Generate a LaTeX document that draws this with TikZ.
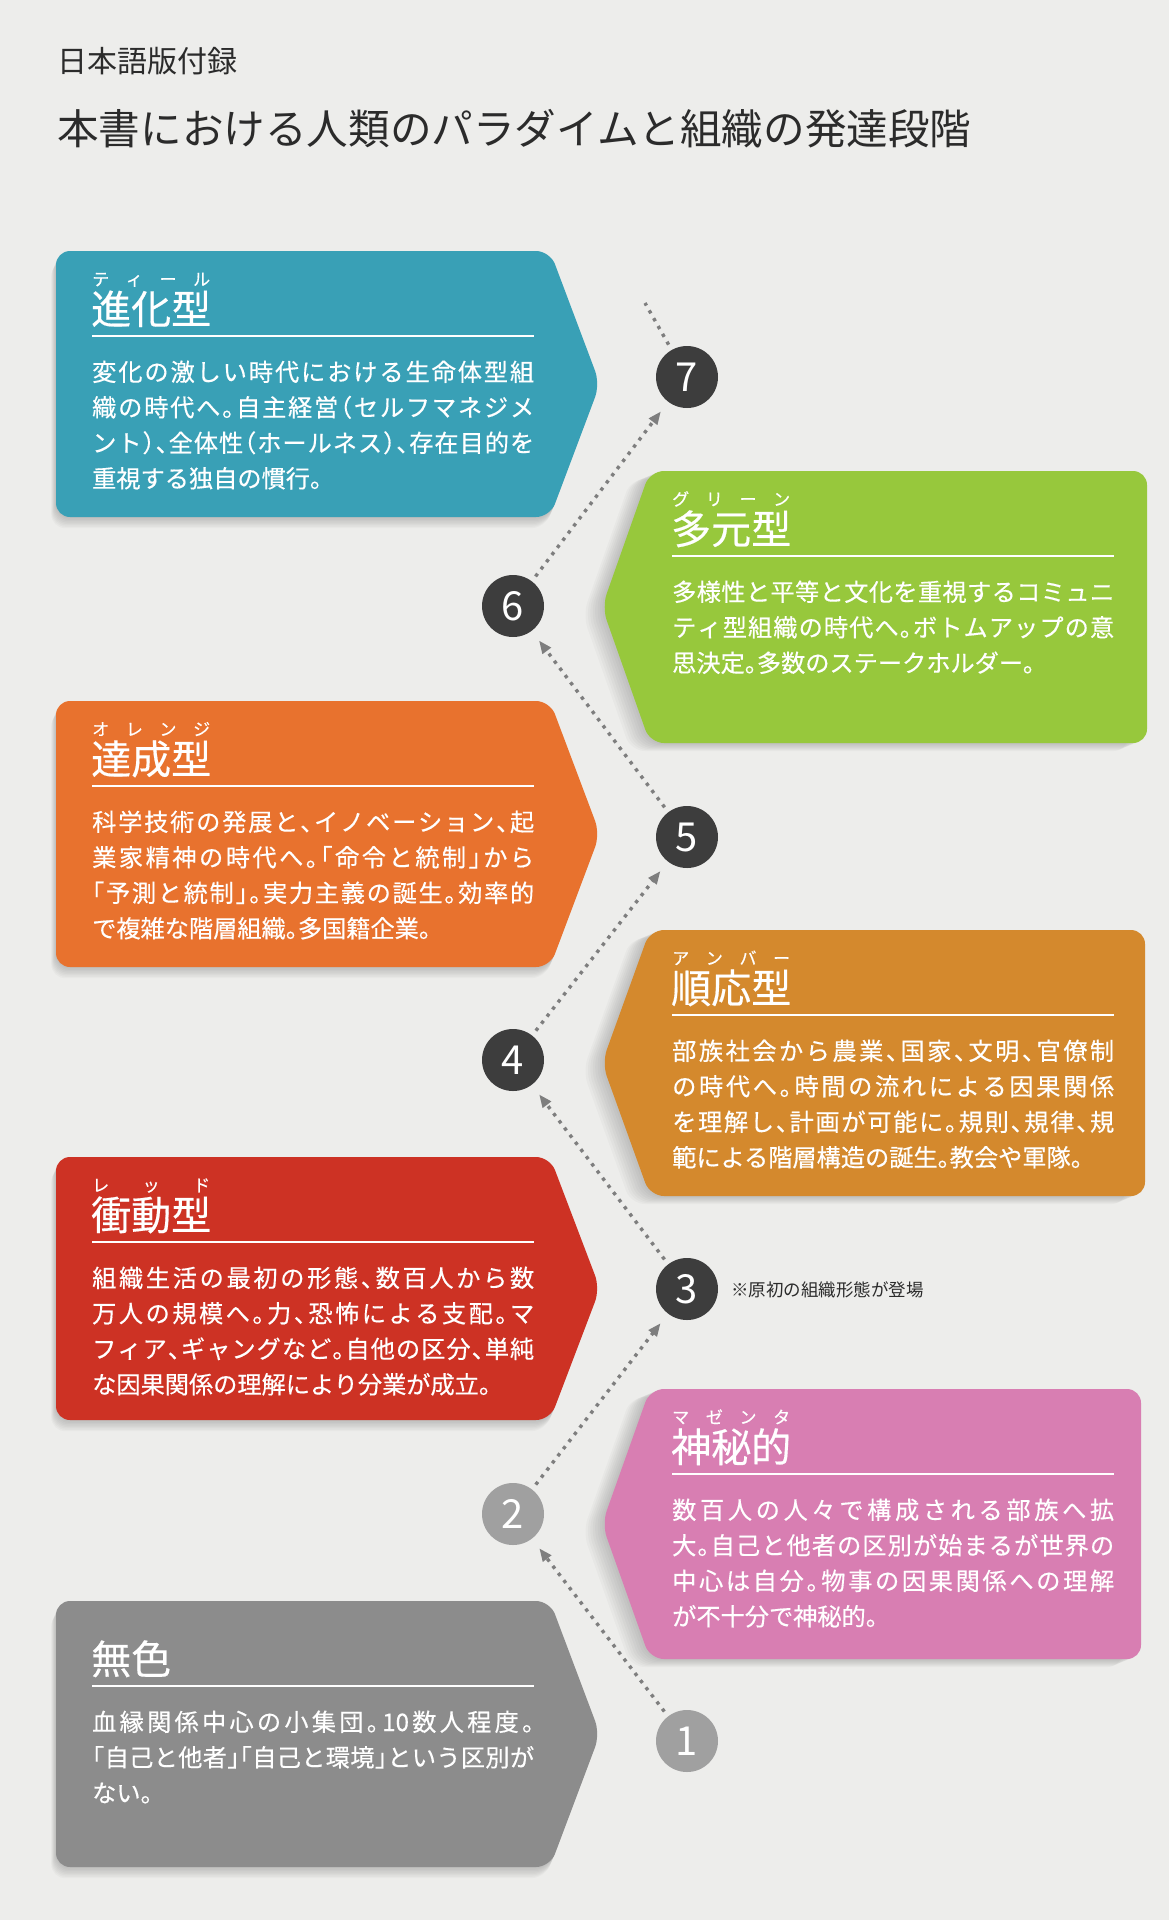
\documentclass[tikz,border=0pt]{standalone}
\usepackage{fontspec}
\setmainfont{Noto Sans CJK JP}[CharacterWidth=AlternateHalf]
\newfontfamily\boxfont{Noto Sans CJK JP}[CharacterWidth=AlternateHalf, FakeBold=0.4]
\usetikzlibrary{arrows.meta}

\definecolor{paper}{HTML}{EDEDEB}
\definecolor{ink}{HTML}{2B2B2B}
\definecolor{tealtag}{HTML}{39A0B6}
\definecolor{greentag}{HTML}{97C83C}
\definecolor{orangetag}{HTML}{E8722E}
\definecolor{ambertag}{HTML}{D4892D}
\definecolor{redtag}{HTML}{CD3224}
\definecolor{pinktag}{HTML}{D87EB2}
\definecolor{graytag}{HTML}{8C8C8C}
\definecolor{dotdark}{HTML}{3D3D3D}
\definecolor{dotlight}{HTML}{A0A0A0}
\definecolor{flowgray}{HTML}{7E7E7E}

\tikzset{
  tagleft/.style 2 args={insert path={(300,#1) -- (550,#1) -- (600,{(#1+#2)/2}) -- (550,#2) -- (56,#2) -- (56,#1) -- cycle}},
  tagright/.style n args={3}{insert path={(900,#1) -- (#3,#1) -- (#3,#2) -- (650,#2) -- (602,{(#1+#2)/2}) -- (650,#1) -- cycle}},
  rubytext/.style={anchor=base west, inner sep=0pt, text=white, font=\boxfont\fontsize{17}{17}\selectfont},
  headtext/.style={anchor=base west, inner sep=0pt, text=white, font=\boxfont\fontsize{40}{40}\selectfont},
  bodytext/.style={anchor=base west, inner sep=0pt, text=white, text width=442pt, align=left, font=\boxfont\fontsize{24.2}{35.5}\selectfont},
  rulewhite/.style={white, line width=2.6pt},
  numdot/.style={circle, fill=dotdark, minimum size=62pt, inner sep=0pt, text=white, font=\fontsize{40}{40}\selectfont},
  numdotlight/.style={numdot, fill=dotlight},
  flow/.style={draw=flowgray, line width=3.4pt, dash pattern=on 3.4pt off 5.6pt, -{Triangle[length=13pt,width=10pt]}, shorten <=6pt, shorten >=12pt},
}

% one full text line, spread over the box width
\ExplSyntaxOn
\NewDocumentCommand{\jline}{m}
  { \makebox[442pt][s]{ \tl_map_inline:nn {#1} { ##1 \hfil } \unskip } }
\ExplSyntaxOff

% box with shadow, point on the right
\newcommand{\lefttag}[3]{%
  \foreach \s in {1,...,8}
    \fill[black, opacity=0.025, rounded corners=14pt, shift={(-0.6*\s,1.4*\s)}, tagleft={#2}{#3}];
  \fill[#1, rounded corners=14pt, tagleft={#2}{#3}];
}
% box with shadow, point on the left
\newcommand{\righttag}[4]{%
  \foreach \s in {1,...,8}
    \fill[black, opacity=0.025, rounded corners=14pt, shift={(-2.4*\s,1*\s)}, tagright={#2}{#3}{#4}];
  \fill[#1, rounded corners=14pt, tagright={#2}{#3}{#4}];
}
% ruby, heading, rule and text of one stage
\newcommand{\stage}[6]{%
  \node[rubytext] (#1-ruby) at (#2,#3+34.5) {\makebox[118pt][s]{#4}};
  \node[headtext] (#1-head) at (#2-1,#3+73) {#5};
  \coordinate (#1-rl) at (#2,#3+85);
  \coordinate (#1-rr) at (#2+442,#3+85);
  \draw[rulewhite] (#1-rl) -- (#1-rr);
  \node[bodytext] (#1-body) at (#2,#3+130) {#6};
}

\begin{document}
\begin{tikzpicture}[x=1pt,y=-1pt]
\fill[paper] (0,0) rectangle (1169,1920);

% headings
\node[anchor=base west, inner sep=0pt, text=ink, font=\fontsize{30}{30}\selectfont] (supp) at (57,72) {日本語版付録};
\node[anchor=base west, inner sep=0pt, text=ink, font=\fontsize{41.6}{41.6}\selectfont] (title) at (57,144) {本書における人類のパラダイムと組織の発達段階};

% boxes
\lefttag{tealtag}{251}{517}
\righttag{greentag}{471}{743}{1147}
\lefttag{orangetag}{701}{967}
\righttag{ambertag}{930}{1196}{1145}
\lefttag{redtag}{1157}{1420}
\righttag{pinktag}{1389}{1659}{1141}
\lefttag{graytag}{1601}{1867}

% texts
\stage{teal}{92}{251}{テ\hfill ィ\hfill ー\hfill ル}{進化型}{\jline{変化の激しい時代における生命体型組}\\
\jline{織の時代へ。自主経営（セルフマネジメ}\\
\jline{ント）、全体性（ホールネス）、存在目的を}\\
重視する独自の慣行。}
\stage{green}{672}{471}{グ\hfill リ\hfill ー\hfill ン}{多元型}{\jline{多様性と平等と文化を重視するコミュニ}\\
\jline{ティ型組織の時代へ。ボトムアップの意}\\
思決定。多数のステークホルダー。}
\stage{orange}{92}{701}{オ\hfill レ\hfill ン\hfill ジ}{達成型}{\jline{科学技術の発展と、イノベーション、起}\\
\jline{業家精神の時代へ。「命令と統制」から}\\
\jline{「予測と統制」。実力主義の誕生。効率的}\\
で複雑な階層組織。多国籍企業。}
\stage{amber}{672}{930}{ア\hfill ン\hfill バ\hfill ー}{順応型}{\jline{部族社会から農業、国家、文明、官僚制}\\
\jline{の時代へ。時間の流れによる因果関係}\\
\jline{を理解し、計画が可能に。規則、規律、規}\\
範による階層構造の誕生。教会や軍隊。}
\stage{red}{92}{1157}{レ\hfill ッ\hfill ド}{衝動型}{\jline{組織生活の最初の形態、数百人から数}\\
\jline{万人の規模へ。力、恐怖による支配。マ}\\
\jline{フィア、ギャングなど。自他の区分、単純}\\
な因果関係の理解により分業が成立。}
\stage{pink}{672}{1389}{マ\hfill ゼ\hfill ン\hfill タ}{神秘的}{\jline{数百人の人々で構成される部族へ拡}\\
\jline{大。自己と他者の区別が始まるが世界の}\\
\jline{中心は自分。物事の因果関係への理解}\\
が不十分で神秘的。}
\stage{gray}{92}{1601}{}{無色}{\jline{血縁関係中心の小集団。{10}数人程度。}\\
\jline{「自己と他者」「自己と環境」という区別が}\\
ない。}

% numbered steps
\node[numdotlight] (c1) at (687,1741) {1};
\node[numdotlight] (c2) at (513,1514) {2};
\node[numdot] (c3) at (687,1289) {3};
\node[numdot] (c4) at (513,1060) {4};
\node[numdot] (c5) at (687,837) {5};
\node[numdot] (c6) at (513,606) {6};
\node[numdot] (c7) at (687,377) {7};
\coordinate (ctop) at (645,303);

\node[anchor=base west, inner sep=0pt, text=ink, font=\fontsize{17.5}{17.5}\selectfont] (note) at (731,1296) {※原初の組織形態が登場};

% dotted path between the steps
\draw[flow] (c1) -- (c2);
\draw[flow] (c2) -- (c3);
\draw[flow] (c3) -- (c4);
\draw[flow] (c4) -- (c5);
\draw[flow] (c5) -- (c6);
\draw[flow] (c6) -- (c7);
\draw[flow, -, shorten >=0pt] (c7) -- (ctop);
\end{tikzpicture}
\end{document}
